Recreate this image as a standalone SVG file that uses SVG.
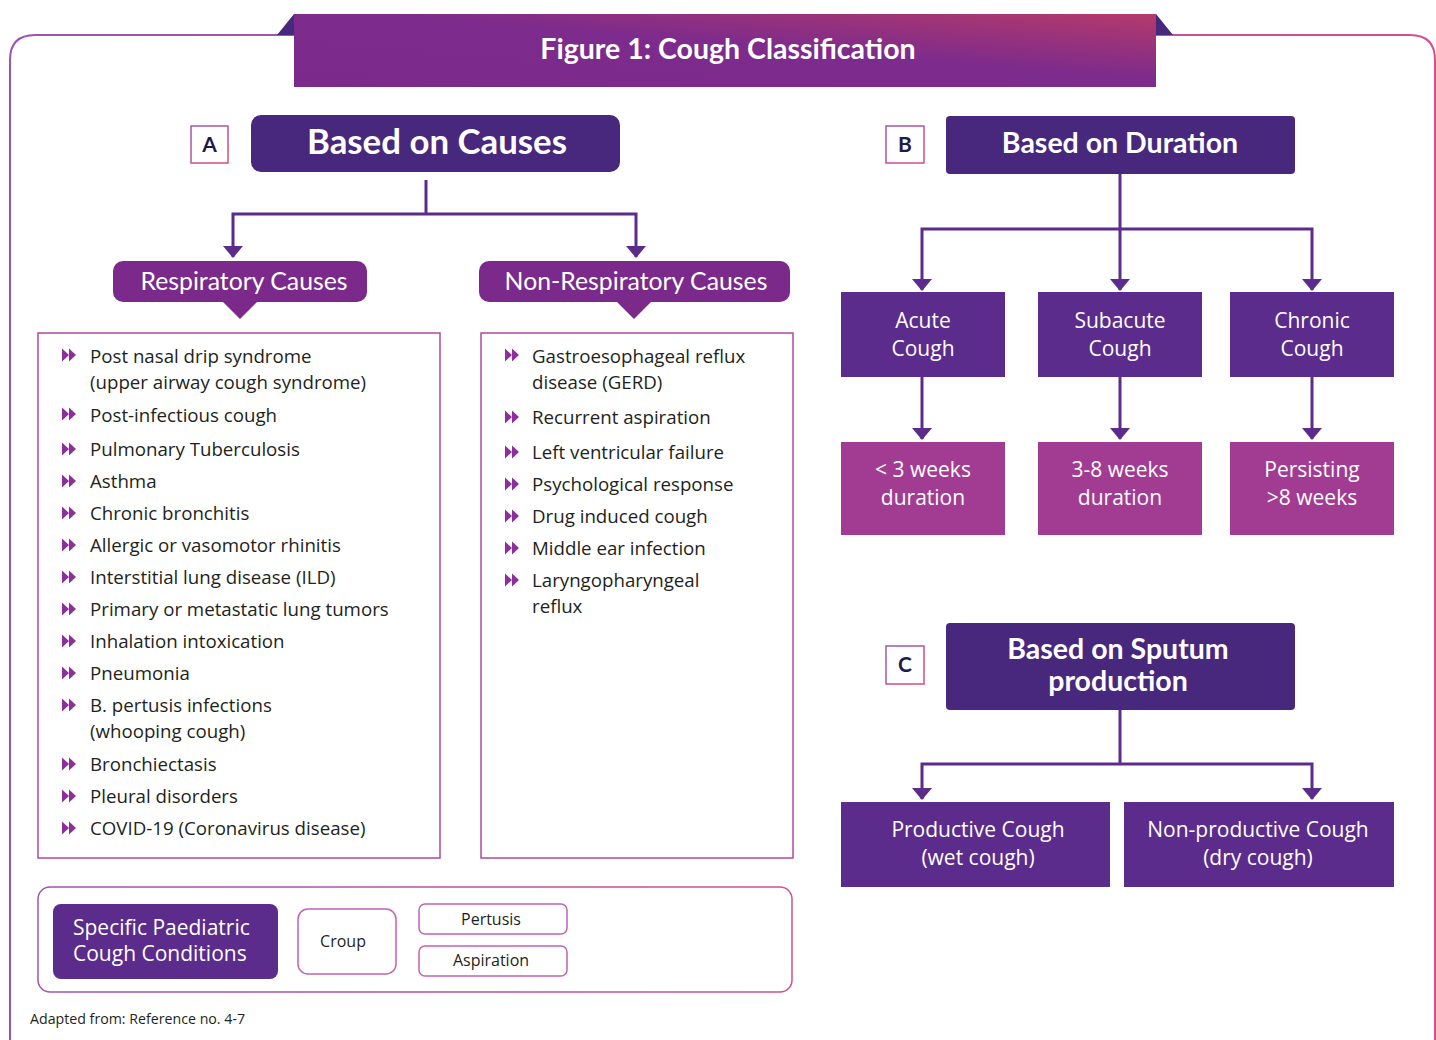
<svg xmlns="http://www.w3.org/2000/svg" width="1436" height="1040" viewBox="0 0 1436 1040">
<defs>
<linearGradient id="frameG" x1="0" y1="0" x2="1" y2="0">
<stop offset="0" stop-color="#9C55AE"/>
<stop offset="1" stop-color="#D2508E"/>
</linearGradient>
<linearGradient id="titleG" x1="0" y1="1" x2="1" y2="0">
<stop offset="0" stop-color="#7B2A8C"/>
<stop offset="0.55" stop-color="#7D2B8C"/>
<stop offset="1" stop-color="#B43A6C"/>
</linearGradient>
<linearGradient id="labG" x1="0" y1="0" x2="1" y2="1">
<stop offset="0" stop-color="#9A5AB0"/>
<stop offset="1" stop-color="#DA4C7E"/>
</linearGradient>
<marker id="arr" viewBox="0 0 12 20" refX="11" refY="10" markerWidth="12" markerHeight="20" markerUnits="userSpaceOnUse" orient="auto">
<path d="M0,0 L12,10 L0,20 z" fill="#5B2C8C"/>
</marker>
<g id="bul">
<path d="M0,-6.5 L7,0 L0,6.5 z M7,-6.5 L14,0 L7,6.5 z" fill="#8E2E9A"/>
</g>
</defs>
<style>
.hdr{font-family:Lato,"Open Sans",sans-serif;font-weight:bold;fill:#fff;text-anchor:middle}
.lab{font-family:Lato,"Open Sans",sans-serif;font-weight:bold;fill:#1E1A4A;text-anchor:middle;font-size:21px}
.pill{font-family:Lato,"Open Sans",sans-serif;fill:#fff;text-anchor:middle;font-size:24.8px}
.li{font-family:"Open Sans","Noto Sans",sans-serif;fill:#231F20;font-size:18.7px}
.bx{font-family:"Open Sans","Noto Sans",sans-serif;fill:#fff;text-anchor:middle;font-size:21px}
.sm{font-family:"Open Sans","Noto Sans",sans-serif;fill:#231F20;text-anchor:middle;font-size:16px}
.con{fill:none;stroke:#5B2C8C;stroke-width:3}
.dk{fill:#48287C}
.md{fill:#5B2C8C}
.mg{fill:#A23C93}
.lst{fill:none;stroke:#B04A9E;stroke-width:1.5}
</style>

<!-- outer frame -->
<path d="M10,1060 V60 Q10,35 35,35 H1410 Q1435,35 1435,60 V1060" fill="none" stroke="url(#frameG)" stroke-width="2"/>

<!-- title banner -->
<g id="title">
<path d="M277,35 L294,14 L294,35 z" fill="#48287C"/>
<path d="M1156,14 L1173,35 L1156,35 z" fill="#48287C"/>
<rect x="294" y="14" width="862" height="73" fill="url(#titleG)"/>
<text class="hdr" x="728" y="59" font-size="28.5">Figure 1: Cough Classification</text>
</g>

<!-- Section A -->
<g id="labelA">
<rect x="191" y="126" width="37" height="37" fill="#fff" stroke="url(#labG)" stroke-width="1.5"/>
<text class="lab" x="209.5" y="152">A</text>
</g>
<g id="causes">
<rect x="251" y="115" width="369" height="57" rx="10" class="dk"/>
<text class="hdr" x="437" y="154" font-size="34.8">Based on Causes</text>
</g>
<g id="resp">
<rect x="113" y="261" width="254" height="41" rx="10" fill="#7B2A8C"/>
<path d="M222,301 L240,319 L258,301 z" fill="#7B2A8C"/>
<text class="pill" x="244" y="290">Respiratory Causes</text>
</g>
<g id="nonresp">
<rect x="479" y="261" width="311" height="41" rx="10" fill="#7B2A8C"/>
<path d="M616,301 L634,319 L652,301 z" fill="#7B2A8C"/>
<text class="pill" x="636" y="290">Non-Respiratory Causes</text>
</g>

<g id="respList">
<rect x="38" y="333" width="402" height="525" class="lst"/>
<use href="#bul" x="62" y="355"/>
<use href="#bul" x="62" y="414"/>
<use href="#bul" x="62" y="449"/>
<use href="#bul" x="62" y="481"/>
<use href="#bul" x="62" y="513"/>
<use href="#bul" x="62" y="545"/>
<use href="#bul" x="62" y="577"/>
<use href="#bul" x="62" y="609"/>
<use href="#bul" x="62" y="641"/>
<use href="#bul" x="62" y="673"/>
<use href="#bul" x="62" y="705"/>
<use href="#bul" x="62" y="764"/>
<use href="#bul" x="62" y="796"/>
<use href="#bul" x="62" y="828"/>
<text class="li" x="90" y="363">Post nasal drip syndrome</text>
<text class="li" x="90" y="389">(upper airway cough syndrome)</text>
<text class="li" x="90" y="422">Post-infectious cough</text>
<text class="li" x="90" y="456">Pulmonary Tuberculosis</text>
<text class="li" x="90" y="488">Asthma</text>
<text class="li" x="90" y="520">Chronic bronchitis</text>
<text class="li" x="90" y="552">Allergic or vasomotor rhinitis</text>
<text class="li" x="90" y="584">Interstitial lung disease (ILD)</text>
<text class="li" x="90" y="616">Primary or metastatic lung tumors</text>
<text class="li" x="90" y="648">Inhalation intoxication</text>
<text class="li" x="90" y="680">Pneumonia</text>
<text class="li" x="90" y="712">B. pertusis infections</text>
<text class="li" x="90" y="738">(whooping cough)</text>
<text class="li" x="90" y="771">Bronchiectasis</text>
<text class="li" x="90" y="803">Pleural disorders</text>
<text class="li" x="90" y="835">COVID-19 (Coronavirus disease)</text>
</g>

<g id="nonrespList">
<rect x="481" y="333" width="312" height="525" class="lst"/>
<use href="#bul" x="505" y="355"/>
<use href="#bul" x="505" y="417"/>
<use href="#bul" x="505" y="452"/>
<use href="#bul" x="505" y="484"/>
<use href="#bul" x="505" y="516"/>
<use href="#bul" x="505" y="548"/>
<use href="#bul" x="505" y="580"/>
<text class="li" x="532" y="363">Gastroesophageal reflux</text>
<text class="li" x="532" y="389">disease (GERD)</text>
<text class="li" x="532" y="424">Recurrent aspiration</text>
<text class="li" x="532" y="459">Left ventricular failure</text>
<text class="li" x="532" y="491">Psychological response</text>
<text class="li" x="532" y="523">Drug induced cough</text>
<text class="li" x="532" y="555">Middle ear infection</text>
<text class="li" x="532" y="587">Laryngopharyngeal</text>
<text class="li" x="532" y="613">reflux</text>
</g>

<!-- Section B -->
<g id="labelB">
<rect x="886" y="126" width="38" height="37" fill="#fff" stroke="url(#labG)" stroke-width="1.5"/>
<text class="lab" x="905" y="152">B</text>
</g>
<g id="duration">
<rect x="946" y="116" width="349" height="58" rx="4" class="dk"/>
<text class="hdr" x="1120" y="153" font-size="28.5">Based on Duration</text>
</g>
<g id="acute">
<rect x="841" y="292" width="164" height="85" class="md"/>
<text class="bx" x="923" y="328">Acute</text>
<text class="bx" x="923" y="356">Cough</text>
</g>
<g id="subacute">
<rect x="1038" y="292" width="164" height="85" class="md"/>
<text class="bx" x="1120" y="328">Subacute</text>
<text class="bx" x="1120" y="356">Cough</text>
</g>
<g id="chronic">
<rect x="1230" y="292" width="164" height="85" class="md"/>
<text class="bx" x="1312" y="328">Chronic</text>
<text class="bx" x="1312" y="356">Cough</text>
</g>
<g id="lt3">
<rect x="841" y="442" width="164" height="93" class="mg"/>
<text class="bx" x="923" y="477">&lt; 3 weeks</text>
<text class="bx" x="923" y="505">duration</text>
</g>
<g id="w38">
<rect x="1038" y="442" width="164" height="93" class="mg"/>
<text class="bx" x="1120" y="477">3-8 weeks</text>
<text class="bx" x="1120" y="505">duration</text>
</g>
<g id="gt8">
<rect x="1230" y="442" width="164" height="93" class="mg"/>
<text class="bx" x="1312" y="477">Persisting</text>
<text class="bx" x="1312" y="505">&gt;8 weeks</text>
</g>

<!-- Section C -->
<g id="labelC">
<rect x="886" y="646" width="38" height="38" fill="#fff" stroke="url(#labG)" stroke-width="1.5"/>
<text class="lab" x="905" y="672">C</text>
</g>
<g id="sputum">
<rect x="946" y="623" width="349" height="87" rx="4" class="dk"/>
<text class="hdr" x="1118" y="659" font-size="28.5">Based on Sputum</text>
<text class="hdr" x="1118" y="691" font-size="28.5">production</text>
</g>
<g id="productive">
<rect x="841" y="802" width="269" height="85" class="md"/>
<text class="bx" x="978" y="837">Productive Cough</text>
<text class="bx" x="978" y="865">(wet cough)</text>
</g>
<g id="nonproductive">
<rect x="1124" y="802" width="270" height="85" class="md"/>
<text class="bx" x="1258" y="837">Non-productive Cough</text>
<text class="bx" x="1258" y="865">(dry cough)</text>
</g>

<!-- Paediatric panel -->
<g id="paed">
<rect x="38" y="887" width="754" height="105" rx="12" fill="none" stroke="url(#frameG)" stroke-width="1.5"/>
<rect x="53" y="904" width="225" height="75" rx="8" class="md"/>
<text class="bx" x="73" y="935" style="text-anchor:start" font-size="22.6">Specific Paediatric</text>
<text class="bx" x="73" y="961" style="text-anchor:start" font-size="22.6">Cough Conditions</text>
</g>
<g id="croup">
<rect x="298" y="909" width="98" height="65" rx="10" fill="#fff" stroke="#C462B4" stroke-width="1.5"/>
<text class="sm" x="343" y="947">Croup</text>
</g>
<g id="pertusis">
<rect x="419" y="904" width="148" height="30" rx="6" fill="#fff" stroke="#C462B4" stroke-width="1.5"/>
<text class="sm" x="491" y="925">Pertusis</text>
</g>
<g id="aspiration">
<rect x="419" y="946" width="148" height="30" rx="6" fill="#fff" stroke="#C462B4" stroke-width="1.5"/>
<text class="sm" x="491" y="966">Aspiration</text>
</g>

<text x="30" y="1024" font-family="Open Sans, Noto Sans, sans-serif" font-size="14.2" fill="#231F20">Adapted from: Reference no. 4-7</text>

<!-- connectors -->
<g id="connectors">
<path class="con" d="M426,180 V214"/>
<path class="con" d="M426,214 H233 V257" marker-end="url(#arr)"/>
<path class="con" d="M426,214 H636 V257" marker-end="url(#arr)"/>
<path class="con" d="M1120,174 V229"/>
<path class="con" d="M1120,229 H922 V290" marker-end="url(#arr)"/>
<path class="con" d="M1120,229 V290" marker-end="url(#arr)"/>
<path class="con" d="M1120,229 H1312 V290" marker-end="url(#arr)"/>
<path class="con" d="M922,377 V439" marker-end="url(#arr)"/>
<path class="con" d="M1120,377 V439" marker-end="url(#arr)"/>
<path class="con" d="M1312,377 V439" marker-end="url(#arr)"/>
<path class="con" d="M1120,710 V764"/>
<path class="con" d="M1120,764 H922 V799" marker-end="url(#arr)"/>
<path class="con" d="M1120,764 H1312 V799" marker-end="url(#arr)"/>
</g>
</svg>
